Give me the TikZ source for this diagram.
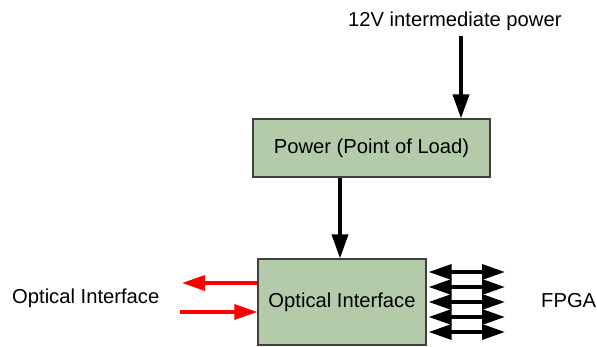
\documentclass[tikz,border=0pt]{standalone}
\usepackage{fontspec}
\setmainfont{Liberation Sans}
\usetikzlibrary{arrows.meta}
\definecolor{boxfill}{RGB}{180,203,170}
\definecolor{boxline}{RGB}{64,64,64}
\begin{document}
\begin{tikzpicture}[x=1pt,y=-1pt,
  font=\fontsize{20.2}{24}\selectfont,
  block/.style={draw=boxline,line width=1.2pt,fill=boxfill,inner sep=0pt},
  lbl/.style={inner sep=0pt,anchor=base west},
  blk/.style={line width=3.6pt,-{Triangle[length=24pt,width=16pt]}},
  redarr/.style={draw=red,line width=3.4pt,-{Triangle[length=23pt,width=15pt]}},
  bidir/.style={line width=3.4pt,{Triangle[length=23pt,width=15pt]}-{Triangle[length=23pt,width=15pt]}}]
\useasboundingbox (0,0) rectangle (597,347);
% boxes
\node[block,minimum width=237pt,minimum height=58pt] (power) at (371.5,148) {Power (Point of Load)};
\node[block,minimum width=168pt,minimum height=86pt] (opt) at (342,302) {Optical Interface};
% labels
\node[lbl] (vin) at (348,27) {12V intermediate power};
\node[lbl] (optlbl) at (12,304) {Optical Interface};
\node[lbl] (fpga) at (541,308) {FPGA};
% connectors
\coordinate (top) at (461,36);
\draw[blk] (top) -- (top |- power.north);
\draw[blk] ([xshift=-31.5pt]power.south) -- ([xshift=-31.5pt]power.south |- opt.north);
\coordinate (redout) at (182,283);
\coordinate (redin) at (180,312);
\draw[redarr] (opt.west |- redout) -- (redout);
\draw[redarr] (redin) -- (opt.west |- redin);
\foreach \d [count=\i] in {272,287,302,317,332}{
  \coordinate (b\i) at (505,\d);
  \draw[bidir] ([xshift=2pt]opt.east |- b\i) -- (b\i);
}
\end{tikzpicture}
\end{document}
